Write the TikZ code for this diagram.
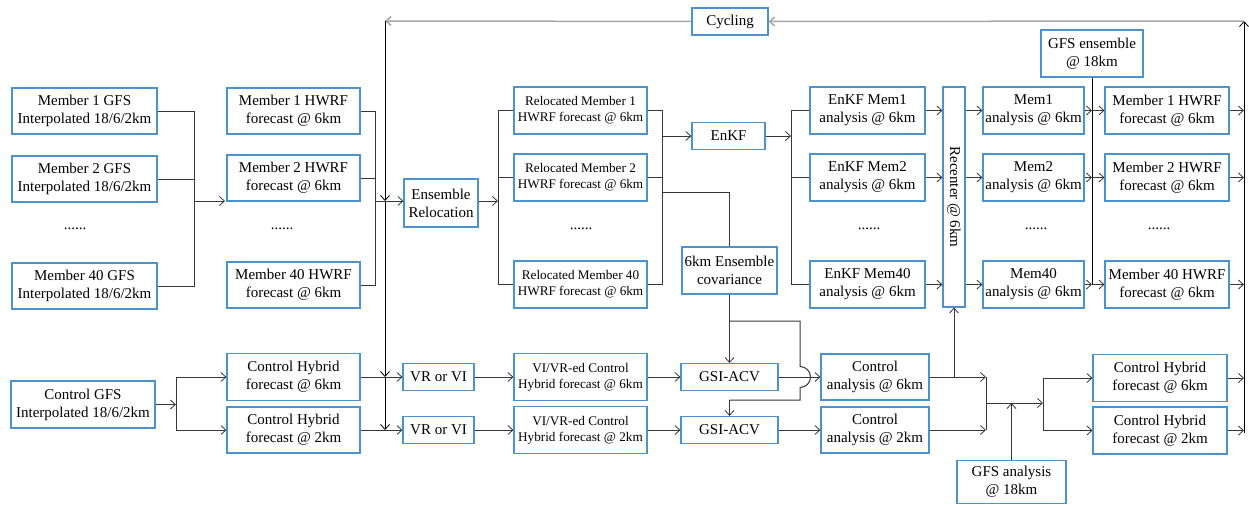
\documentclass[tikz,border=0pt]{standalone}
\usepackage{fontspec}
\setmainfont{Liberation Serif}
\newfontfamily\timesfont{Liberation Serif}
\usetikzlibrary{arrows.meta}
\definecolor{boxblue}{RGB}{76,146,205}
\definecolor{linegray}{RGB}{55,55,55}
\tikzstyle{block} = [rectangle, draw=boxblue, line width=1.1pt, align=center,
    inner sep=1pt, minimum height=46pt, font=\timesfont\fontsize{15}{18}\selectfont]
\tikzstyle{blockthin} = [block, minimum height=27pt]
\tikzstyle{blocksmall} = [block, minimum width=133pt, minimum height=47pt,
    font=\timesfont\fontsize{13.2}{16}\selectfont]
\tikzstyle{dots} = [font=\timesfont\fontsize{15}{18}\selectfont, inner sep=0pt]
\tikzstyle{wire} = [draw=linegray, line width=0.8pt]
\tikzstyle{line} = [wire, -{Straight Barb[length=5pt,width=9pt]}]
\tikzstyle{cycline} = [draw=gray!70, line width=1.5pt, -{Straight Barb[length=5pt,width=9pt]}]

\begin{document}
\begin{tikzpicture}[x=1pt, y=-1pt]
    \useasboundingbox (0,0) rectangle (1249,504);
    % Place nodes
    \node [block, minimum width=145pt] (gfs1) at (84.5,111) {Member 1 GFS\\Interpolated 18/6/2km};
    \node [block, minimum width=145pt] (gfs2) at (84.5,179) {Member 2 GFS\\Interpolated 18/6/2km};
    \node [dots] (gfsdots) at (75,229) {......};
    \node [block, minimum width=145pt] (gfs40) at (84.5,286) {Member 40 GFS\\Interpolated 18/6/2km};
    \node [block, minimum width=133pt] (hwrf1) at (293.5,111) {Member 1 HWRF\\forecast @ 6km};
    \node [block, minimum width=133pt] (hwrf2) at (293.5,178) {Member 2 HWRF\\forecast @ 6km};
    \node [dots] (hwrfdots) at (282,229) {......};
    \node [block, minimum width=133pt] (hwrf40) at (293.5,285) {Member 40 HWRF\\forecast @ 6km};
    \node [block, minimum width=74pt, minimum height=48pt] (reloc) at (441,203) {Ensemble\\Relocation};
    \node [blocksmall] (rel1) at (580.5,110.5) {Relocated Member 1\\HWRF forecast @ 6km};
    \node [blocksmall] (rel2) at (580.5,177.5) {Relocated Member 2\\HWRF forecast @ 6km};
    \node [dots] (reldots) at (581,229) {......};
    \node [blocksmall] (rel40) at (580.5,284.5) {Relocated Member 40\\HWRF forecast @ 6km};
    \node [blockthin, minimum width=76pt] (cycling) at (730,21.5) {Cycling};
    \node [blockthin, minimum width=73pt] (enkf) at (728.5,136) {EnKF};
    \node [block, minimum width=95pt, minimum height=47pt] (cov) at (729.5,270.5) {6km Ensemble\\covariance};
    \node [block, minimum width=115pt, minimum height=47pt] (em1) at (867.5,110.5) {EnKF Mem1\\analysis @ 6km};
    \node [block, minimum width=115pt, minimum height=47pt] (em2) at (867.5,177.5) {EnKF Mem2\\analysis @ 6km};
    \node [dots] (emdots) at (869,229) {......};
    \node [block, minimum width=115pt, minimum height=47pt] (em40) at (867.5,284.5) {EnKF Mem40\\analysis @ 6km};
    \node [block, minimum width=22pt, minimum height=220pt, inner sep=0pt] (recenter) at (954,197) {\rotatebox{-90}{Recenter @ 6km}};
    \node [block, minimum width=101pt, minimum height=47pt] (an1) at (1033.5,110.5) {Mem1\\analysis @ 6km};
    \node [block, minimum width=101pt, minimum height=47pt] (an2) at (1033.5,177.5) {Mem2\\analysis @ 6km};
    \node [dots] (andots) at (1036,229) {......};
    \node [block, minimum width=101pt, minimum height=47pt] (an40) at (1033.5,284.5) {Mem40\\analysis @ 6km};
    \node [block, minimum width=102pt, minimum height=47pt] (gfsens) at (1092,53.5) {GFS ensemble\\@ 18km};
    \node [block, minimum width=124pt, minimum height=47pt] (fc1) at (1167,110.5) {Member 1 HWRF\\forecast @ 6km};
    \node [block, minimum width=124pt, minimum height=47pt] (fc2) at (1167,177.5) {Member 2 HWRF\\forecast @ 6km};
    \node [dots] (fcdots) at (1159,229) {......};
    \node [block, minimum width=124pt, minimum height=47pt] (fc40) at (1167,284.5) {Member 40 HWRF\\forecast @ 6km};
    \node [block, minimum width=144pt, minimum height=47pt] (ctlgfs) at (83,404.5) {Control GFS\\Interpolated 18/6/2km};
    \node [block, minimum width=133pt, minimum height=47pt] (ch6) at (293.5,377) {Control Hybrid\\forecast @ 6km};
    \node [block, minimum width=133pt] (ch2) at (293.5,430) {Control Hybrid\\forecast @ 2km};
    \node [blockthin, minimum width=71pt] (vr6) at (438.5,377) {VR or VI};
    \node [blockthin, minimum width=71pt] (vr2) at (438.5,430) {VR or VI};
    \node [blocksmall] (vi6) at (580.5,377) {VI/VR-ed Control\\Hybrid forecast @ 6km};
    \node [blocksmall] (vi2) at (580.5,430) {VI/VR-ed Control\\Hybrid forecast @ 2km};
    \node [blockthin, minimum width=97pt] (gsi6) at (729.5,377) {GSI-ACV};
    \node [blockthin, minimum width=97pt] (gsi2) at (729.5,430) {GSI-ACV};
    \node [block, minimum width=108pt] (ca6) at (875,377) {Control\\analysis @ 6km};
    \node [block, minimum width=108pt] (ca2) at (875,430) {Control\\analysis @ 2km};
    \node [block, minimum width=109pt, minimum height=43pt] (gfsan) at (1011.5,482) {GFS analysis\\@ 18km};
    \node [block, minimum width=134pt, minimum height=47pt] (ch6r) at (1160,378) {Control Hybrid\\forecast @ 6km};
    \node [block, minimum width=134pt, minimum height=47pt] (ch2r) at (1160,430.5) {Control Hybrid\\forecast @ 2km};
    % Draw edges
    \coordinate (gfsbar) at (194,201);
    \coordinate (hwrfin) at (225,201);
    \path [wire] (gfs1) -| (gfsbar);
    \path [wire] (gfs2) -| (gfsbar);
    \path [wire] (gfs40) -| (gfsbar);
    \path [line] (gfsbar) -- (hwrfin);
    \coordinate (hwrfbar) at (375,201);
    \path [wire] (hwrf1) -| (hwrfbar);
    \path [wire] (hwrf2) -| (hwrfbar);
    \path [wire] (hwrf40) -| (hwrfbar);
    \path [line] (hwrfbar) -- (reloc.west |- hwrfbar);
    \coordinate (relbar) at (498,201);
    \path [line] (reloc.east |- relbar) -- (relbar);
    \path [wire] (relbar) |- (rel1);
    \path [wire] (relbar) |- (rel2);
    \path [wire] (relbar) |- (rel40);
    \coordinate (enkfbar) at (662,136);
    \path [wire] (rel1) -| (enkfbar);
    \path [wire] (rel2) -| (enkfbar);
    \path [wire] (rel40) -| (enkfbar);
    \path [line] (enkfbar) -- (enkf);
    \coordinate (covtap) at (662,192);
    \path [wire] (covtap) -| (cov);
    \coordinate (embar) at (791,136);
    \path [line] (enkf) -- (embar);
    \path [wire] (embar) |- (em1);
    \path [wire] (embar) |- (em2);
    \path [wire] (embar) |- (em40);
    \path [line] (em1) -- (em1 -| recenter.west);
    \path [line] (em2) -- (em2 -| recenter.west);
    \path [line] (em40) -- (em40 -| recenter.west);
    \path [line] (recenter.east |- an1) -- (an1);
    \path [line] (recenter.east |- an2) -- (an2);
    \path [line] (recenter.east |- an40) -- (an40);
    \path [wire, draw=black] (gfsens) -- (gfsens |- an40);
    \path [line] (an1) -- (an1 -| gfsens);
    \path [line] (an2) -- (an2 -| gfsens);
    \path [line] (an40) -- (an40 -| gfsens);
    \path [line] (an1 -| gfsens) -- (fc1);
    \path [line] (an2 -| gfsens) -- (fc2);
    \path [line] (an40 -| gfsens) -- (fc40);
    % cycling loop
    \coordinate (cycr) at (1244,21);
    \coordinate (cycl) at (385,21);
    \coordinate (cycbot) at (1244,433);
    \path [line] (fc1) -- (fc1 -| cycr);
    \path [line] (fc2) -- (fc2 -| cycr);
    \path [line] (fc40) -- (fc40 -| cycr);
    \path [line] (ch6r) -- (ch6r -| cycr);
    \path [line] (ch2r) -- (ch2r -| cycr);
    \path [line, draw=black] (cycbot) -- (cycr);
    \path [cycline] (cycr) -- (cycling);
    \path [cycline] (cycling) -- (cycl);
    \path [line, draw=black] (cycl) -- (cycl |- hwrfbar);
    \path [line, draw=black] (cycl |- hwrfbar) -- (cycl |- vr6);
    \path [line, draw=black] (cycl |- vr6) -- (cycl |- vr2);
    % control branch
    \coordinate (ctlbar) at (176,404.5);
    \path [line] (ctlgfs) -- (ctlbar);
    \path [wire] (ctlbar |- ch6) -- (ctlbar |- ch2);
    \path [line] (ctlbar |- ch6) -- (ch6);
    \path [line] (ctlbar |- ch2) -- (ch2);
    \path [line] (ch6) -- (vr6);
    \path [line] (ch2) -- (vr2);
    \path [line] (vr6) -- (vi6);
    \path [line] (vr2) -- (vi2);
    \path [line] (vi6) -- (gsi6);
    \path [line] (vi2) -- (gsi2);
    \path [line] (gsi6) -- (ca6);
    \path [line] (gsi2) -- (ca2);
    \path [line] (cov) -- (gsi6);
    \coordinate (covsplit) at (729.5,321);
    \coordinate (hoptop) at (800,321);
    \coordinate (hopbot) at (800,400);
    \coordinate (gsi2in) at (729.5,400);
    \path [wire, line width=1pt] (covsplit) -- (hoptop) -- (800,366.5)
        arc [start angle=-90, end angle=90, radius=10.5] -- (hopbot) -- (gsi2in);
    \path [line] (gsi2in) -- (gsi2);
    \coordinate (cajoin) at (986,403);
    \path [line] (ca6) -- (ca6 -| cajoin);
    \path [line] (ca2) -- (ca2 -| cajoin);
    \path [wire] (ca6 -| cajoin) -- (ca2 -| cajoin);
    \path [line] (ca6 -| recenter) -- (recenter);
    \coordinate (chbar) at (1043,403);
    \path [line] (cajoin) -- (chbar);
    \path [line] (gfsan) -- (gfsan |- cajoin);
    \path [wire] (chbar |- ch6r) -- (chbar |- ch2r);
    \path [line] (chbar |- ch6r) -- (ch6r);
    \path [line] (chbar |- ch2r) -- (ch2r);
\end{tikzpicture}
\end{document}
